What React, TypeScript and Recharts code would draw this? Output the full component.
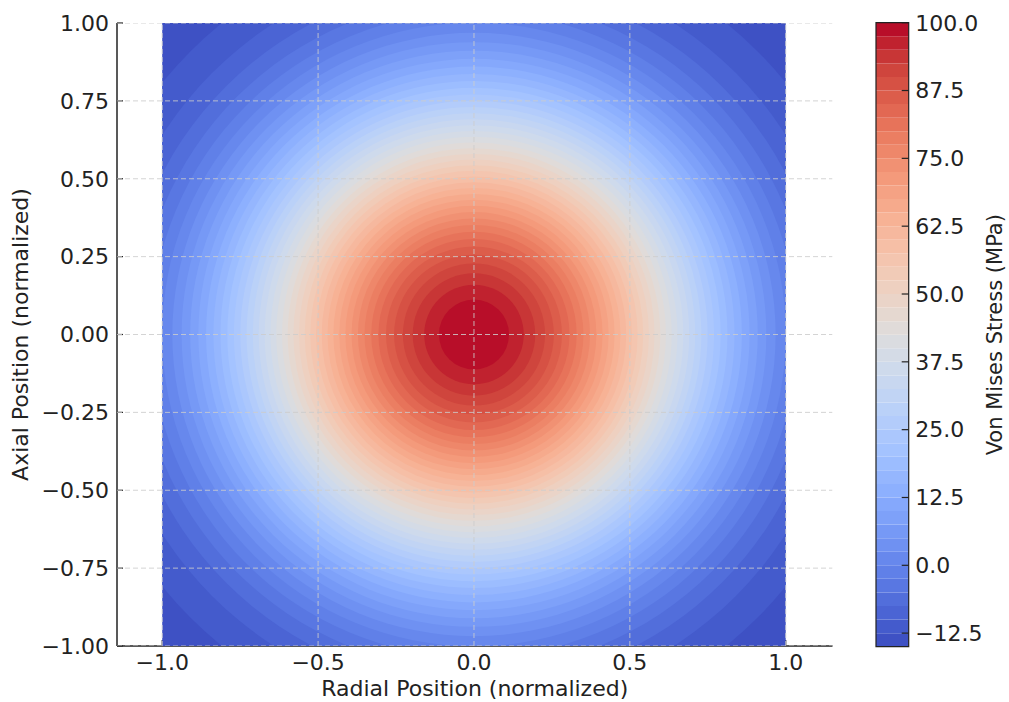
import React from 'react';
import { ScatterChart, Scatter, XAxis, YAxis, ReferenceArea } from 'recharts';

// axis ticks
const xTicks = [-1, -0.5, 0, 0.5, 1];
const yTicks = [-1, -0.75, -0.5, -0.25, 0, 0.25, 0.5, 0.75, 1];
const colorbarTicks = [-12.5, 0, 12.5, 25, 37.5, 50, 62.5, 75, 87.5, 100];

const X_DOMAIN = [-1.145, 1.15];
const Y_DOMAIN = [-1, 1];

// lower bound of each filled contour band (MPa), step 2.5
const bandLevels = [
  -15, -12.5, -10, -7.5, -5, -2.5, 0, 2.5, 5, 7.5, 10, 12.5, 15, 17.5, 20, 22.5,
  25, 27.5, 30, 32.5, 35, 37.5, 40, 42.5, 45, 47.5, 50, 52.5, 55, 57.5, 60, 62.5,
  65, 67.5, 70, 72.5, 75, 77.5, 80, 82.5, 85, 87.5, 90, 92.5, 95, 97.5,
];
const bandTop = 100;

// radius (normalized) of the contour line at bandLevels[1..]
const contourRadii = [
  1.2854, 1.1871, 1.1252, 1.0768, 1.0359, 1.0, 0.9676, 0.9378, 0.9102, 0.8841,
  0.8593, 0.8357, 0.8131, 0.7912, 0.7701, 0.7494, 0.7294, 0.7097, 0.6904, 0.6714,
  0.6527, 0.6341, 0.6157, 0.5975, 0.5793, 0.5612, 0.5431, 0.525, 0.5067, 0.4883,
  0.4698, 0.451, 0.432, 0.4126, 0.3927, 0.3722, 0.3512, 0.3294, 0.3064, 0.2821,
  0.2562, 0.228, 0.1965, 0.1597, 0.1124,
];
// outermost band fills the corners of the square
const outerRadius = 1.5;

// matplotlib "coolwarm", sampled every 1/16
const coolwarmStops = [
  '#3b4cc0', '#4d68d7', '#6282ea', '#779af7', '#8db0fe', '#a3c2ff', '#b8d0f9', '#ccd9ee',
  '#dddddd', '#ecd3c5', '#f5c4ad', '#f7b194', '#f49a7b', '#ec7f63', '#de604d', '#cb3e38', '#b40426',
];

const VMIN = bandLevels[0];
const VMAX = bandTop;
const FONT = 'DejaVu Sans';
const TEXT = '#222222';
const FS = 22;

const hex = (h: string) => [1, 3, 5].map((i) => parseInt(h.slice(i, i + 2), 16));

const coolwarm = (t: number) => {
  const tt = Math.min(1, Math.max(0, t)) * (coolwarmStops.length - 1);
  const i = Math.min(coolwarmStops.length - 2, Math.floor(tt));
  const f = tt - i;
  const a = hex(coolwarmStops[i]);
  const b = hex(coolwarmStops[i + 1]);
  const c = a.map((v, k) => Math.round(v + (b[k] - v) * f));
  return `rgb(${c[0]},${c[1]},${c[2]})`;
};

const bandColor = (lo: number) => coolwarm((lo + 1.25 - VMIN) / (VMAX - VMIN));

const fmt = (d: number) => (v: number) => (v < 0 ? '\u2212' : '') + Math.abs(v).toFixed(d);

// first point gives the pixel position of x = 1, the rest are rings centred at the origin
const ringData = [
  { x: 1, y: 0, role: 'unit', r: 0, level: 0 },
  { x: 0, y: 0, role: 'ring', r: outerRadius, level: bandLevels[0] },
  ...contourRadii.map((r, i) => ({ x: 0, y: 0, role: 'ring', r, level: bandLevels[i + 1] })),
];

const frame = { unitX: 0 };

const RingShape = (props: any) => {
  const { cx, cy, payload } = props;
  if (payload.role === 'unit') {
    frame.unitX = cx;
    return <g />;
  }
  const pxPerUnit = frame.unitX - cx;
  return (
    <circle
      cx={cx}
      cy={cy}
      r={Math.max(0, payload.r * pxPerUnit)}
      fill={bandColor(payload.level)}
      clipPath="url(#stress-square)"
    />
  );
};

const NoDot = () => <g />;

// dashed grid, drawn above the contours
const gridLines = [
  ...xTicks.map((v) => ({ key: `gx${v}`, pts: [{ x: v, y: Y_DOMAIN[0] }, { x: v, y: Y_DOMAIN[1] }] })),
  ...yTicks.map((v) => ({ key: `gy${v}`, pts: [{ x: X_DOMAIN[0], y: v }, { x: X_DOMAIN[1], y: v }] })),
];

// colorbar anchor points (keep the colorbar axes populated)
const colorbarData = [...bandLevels, bandTop].map((v) => ({ x: 0.5, y: v }));

const tickStyle = { fontSize: FS, fill: TEXT, fontFamily: FONT };
const gridLine = { stroke: '#cccccc', strokeOpacity: 0.85, strokeDasharray: '5 3', strokeWidth: 1 };

const App: React.FC = () => {
  return (
    <div
      style={{
        position: 'absolute',
        left: 0,
        top: 0,
        width: 1009,
        height: 702,
        background: '#fff',
        fontFamily: FONT,
      }}
    >
      <div style={{ position: 'absolute', left: 0, top: 0 }}>
        <ScatterChart width={860} height={702} margin={{ top: 23, right: 27.5, bottom: 55, left: 116 }}>
          <ReferenceArea
            x1={-1}
            x2={1}
            y1={-1}
            y2={1}
            shape={(p: any) => (
              <defs>
                <clipPath id="stress-square">
                  <rect x={p.x} y={p.y} width={p.width} height={p.height} />
                </clipPath>
              </defs>
            )}
          />
          <Scatter data={ringData} shape={RingShape} isAnimationActive={false} />
          {gridLines.map((g) => (
            <Scatter key={g.key} data={g.pts} shape={NoDot} line={gridLine} isAnimationActive={false} />
          ))}
          <XAxis
            type="number"
            dataKey="x"
            domain={X_DOMAIN}
            allowDataOverflow
            ticks={xTicks}
            tickFormatter={fmt(1)}
            height={1}
            tickSize={-6}
            tickMargin={14.5}
            tick={tickStyle}
            axisLine={{ stroke: TEXT, strokeWidth: 1.5 }}
            tickLine={{ stroke: TEXT, strokeWidth: 1.2 }}
            label={{
              value: 'Radial Position (normalized)',
              position: 'bottom',
              offset: 33.5,
              fontSize: FS,
              fill: TEXT,
            }}
          />
          <YAxis
            type="number"
            dataKey="y"
            domain={Y_DOMAIN}
            allowDataOverflow
            ticks={yTicks}
            tickFormatter={fmt(2)}
            width={1}
            tickSize={-6}
            tickMargin={14}
            tick={tickStyle}
            axisLine={{ stroke: TEXT, strokeWidth: 1.5 }}
            tickLine={{ stroke: TEXT, strokeWidth: 1.2 }}
            label={{
              value: 'Axial Position (normalized)',
              angle: -90,
              position: 'left',
              offset: 96,
              fontSize: FS,
              fill: TEXT,
              style: { textAnchor: 'middle' },
            }}
          />
        </ScatterChart>
      </div>
      <div style={{ position: 'absolute', left: 860, top: 0 }}>
        <ScatterChart width={149} height={702} margin={{ top: 22.7, right: 99.3, bottom: 55.3, left: 16 }}>
          <Scatter data={colorbarData} shape={NoDot} isAnimationActive={false} />
          {bandLevels.map((lo, i) => (
            <ReferenceArea
              key={`band${lo}`}
              x1={0}
              x2={1}
              y1={lo}
              y2={i + 1 < bandLevels.length ? bandLevels[i + 1] : bandTop}
              fill={bandColor(lo)}
              fillOpacity={1}
              stroke="none"
            />
          ))}
          <ReferenceArea x1={0} x2={1} y1={VMIN} y2={VMAX} fill="none" stroke={TEXT} strokeWidth={1.2} />
          <XAxis type="number" dataKey="x" domain={[0, 1]} hide />
          <YAxis
            type="number"
            dataKey="y"
            orientation="right"
            domain={[VMIN, VMAX]}
            ticks={colorbarTicks}
            tickFormatter={fmt(1)}
            width={1}
            tickSize={-7}
            tickMargin={13.5}
            tick={tickStyle}
            axisLine={false}
            tickLine={{ stroke: TEXT, strokeWidth: 1.2 }}
            label={{
              value: 'Von Mises Stress (MPa)',
              angle: -90,
              position: 'right',
              offset: 85,
              fontSize: 21,
              fill: TEXT,
              style: { textAnchor: 'middle' },
            }}
          />
        </ScatterChart>
      </div>
    </div>
  );
};

export default App;
